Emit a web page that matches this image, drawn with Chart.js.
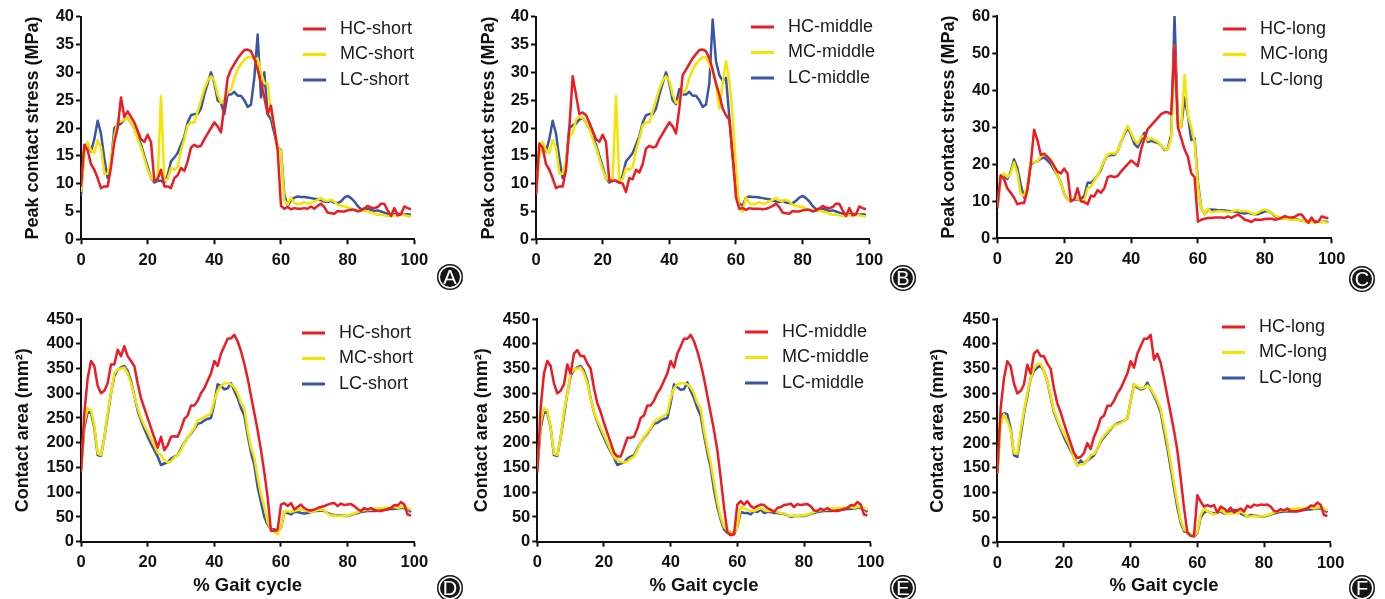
<!DOCTYPE html>
<html>
<head>
<meta charset="utf-8">
<script src="https://cdn.jsdelivr.net/npm/chart.js@4.4.1/dist/chart.umd.min.js"></script>
<style>
  html, body { margin: 0; padding: 0; background: #fff; width: 1385px; height: 599px; overflow: hidden; position: relative; }
  canvas { position: absolute; }
  .tag {
    position: absolute; width: 26px; height: 26px; border-radius: 50%;
    background: #161616; box-shadow: inset 0 0 0 1.5px #161616, inset 0 0 0 3px #fff;
    color: #fff; font: 20px 'Liberation Sans', Arial, sans-serif; text-align: center; line-height: 27px;
  }
</style>
</head>
<body>
<canvas id="chartA" width="460" height="300" style="left:0;top:0"></canvas>
<canvas id="chartB" width="460" height="300" style="left:460px;top:0"></canvas>
<canvas id="chartC" width="465" height="300" style="left:920px;top:0"></canvas>
<canvas id="chartD" width="460" height="299" style="left:0;top:300px"></canvas>
<canvas id="chartE" width="460" height="299" style="left:460px;top:300px"></canvas>
<canvas id="chartF" width="465" height="299" style="left:920px;top:300px"></canvas>
<div class="tag" style="left:437px;top:264px">A</div>
<div class="tag" style="left:890px;top:265px">B</div>
<div class="tag" style="left:1349px;top:266px">C</div>
<div class="tag" style="left:437px;top:575px">D</div>
<div class="tag" style="left:890px;top:575px">E</div>
<div class="tag" style="left:1349px;top:575px">F</div>
<script>
// % gait cycle
const gait = [0,1,2,3,4,5,6,7,8,9,10,11,12,13,14,15,16,17,18,19,20,21,22,23,24,25,26,27,28,29,
  30,31,32,33,34,35,36,37,38,39,40,41,42,43,44,45,46,47,48,49,50,51,52,53,54,55,56,57,58,59,
  60,61,62,63,64,65,66,67,68,69,70,71,72,73,74,75,76,77,78,79,80,81,82,83,84,85,86,87,88,89,
  90,91,92,93,94,95,96,97,98,99];

const xTicks = [0, 20, 40, 60, 80, 100];

// Peak contact stress (MPa)
const hcShortStress = [9.5,17,16,13.5,12.5,11,9.2,9.5,9.5,13, 17.5,20,25.5,22,23,22,21,19.5,18,17.5,
  18.8,17.5,10.5,10.8,12.5,9.5,9.5,9.2,11,11.5, 12.8,12.3,14,16.5,17,16.6,16.8,18,19,20,
  21,20.3,19.2,24,29,30.5,31.5,32.5,33.3,34, 34.1,33.8,32.5,30.5,28,25.5,22.5,24,20,16,
  6,5.5,5.8,5.4,5.6,5.5,5.5,5.6,5.5,5.9, 5.5,6,6.4,5.8,4.8,4.7,4.6,5.1,5,5,
  5.2,5.3,5.3,5,5.2,5.5,6,5.7,5.6,5.8, 6.4,6.4,5.2,4.2,5.6,4.3,4.5,5.9,5.6,5.4];
const mcShortStress = [8.5,15,17.5,16,15.5,17.8,16.5,11.8,11.8,14, 18.5,21,21.2,21.5,21.8,21,20,18,16.5,14.5,
  12.5,11,10.5,10.8,25.7,10.5,10.8,12.8,12.5,13, 16,18,20.5,21,21,23,25,27,28.5,29.3,
  28.5,26,24.5,25,26.5,26.8,29,30.5,31.5,32.2, 32.7,32.7,32.3,32.5,30,28,28,23,20,16.5,
  15.8,7,6.2,7.5,6.5,6.3,6.4,6.7,6.4,6.5, 6.8,7.1,7.4,7,6.9,7.1,6.8,6.2,6,5.9,
  5.8,5.5,5.3,5.2,5.1,5.2,5,4.8,4.6,4.4, 4.4,4.3,4.2,4.2,4.3,4.3,4.4,4.3,4.2,4.1];
const lcShortStress = [7.8,16.5,17.3,15.8,18,21.3,19,14.5,11,13.5, 20,20.5,20.8,21.5,21.8,21,20,18.5,17,15,
  13,11,10.2,10.5,10.5,10.2,11.5,14,14.7,15.5, 17,18.5,21,22.3,22.5,22.5,23.5,26,28,30,
  28,25,24.5,22.5,26,26,26.5,25.8,25.8,25, 23.8,24.2,29,36.8,25.5,30,22.5,21.5,19,16.5,
  16,8,6,7,7.5,7.7,7.6,7.6,7.5,7.4, 7.3,7.2,7,6.8,6.7,6.9,6.6,6.5,6.8,7.5,
  7.8,7.4,6.8,6,5.4,5.5,5.5,5.3,5.1,5.2, 5,4.8,4.6,4.3,4.5,4.6,4.5,4.4,4.5,4.4];

const hcMiddleStress = [8,17.2,16.5,13.5,12.5,11,9.2,9.5,9.5,12.5, 20,29.3,26,22.5,22.8,22.3,21,19.5,18,17.5,
  18.8,17.5,10.5,10.5,10.5,10.2,10,8.5,11,10.8, 12.5,12,13.5,16.3,16.8,16.5,16.7,18,19,20,
  21,20.3,19,23.5,29.5,30.5,31.5,32.5,33.3,34, 34.1,33.8,32.5,30.5,28,26,23.5,22.3,21.5,15,
  7.5,5.5,5.6,5.3,5.6,5.5,5.5,5.5,5.4,5.5, 5.7,6,6.4,5.8,4.8,4.7,4.6,5.1,5,5,
  5.2,5.3,5.3,5,5.2,5.5,6,5.7,5.6,5.8, 6.4,6.4,5.2,4.2,5.6,4.3,4.5,5.9,5.6,5.4];
const mcMiddleStress = [8.5,15,17.5,16,15.5,17.8,16.5,11.8,11.8,14, 18.5,19,21.5,22,21.8,21,20,18,16.5,14.5,
  12.5,11,10.5,10.8,25.7,10.5,10.8,12.8,12.5,13, 16,18,20.5,21,21,23,25,27,28.5,29.3,
  28.5,26,24.5,25,26.5,26.8,29,30.5,31.5,32.2, 32.7,32.7,31.5,30,28,23.5,28,32,28.5,22,
  13,5.5,5,7.5,6.5,6.3,6.4,6.7,6.4,6.5, 6.8,7.1,7.4,7,6.9,7.1,6.8,6.2,6,5.9,
  5.8,5.5,5.3,5.2,5.1,5.2,5,4.8,4.6,4.4, 4.4,4.3,4.2,4.2,4.3,4.3,4.4,4.3,4.2,4.1];
const lcMiddleStress = [8,16.5,17.3,15.8,18,21.3,19,14.5,11,13.5, 20,20.5,20.8,21.5,21.8,21,20,18.5,17,15,
  13,11,10.2,10.5,10.5,10.2,11.5,14,14.7,15.5, 17,18.5,21,22.3,22.5,22.5,23.5,26,28,30,
  28,25,24.3,27,26,26,26.5,25.8,25.8,25, 23.8,24.2,28,39.5,32,29.5,28.5,29,22,15,
  9,6.5,6,7.5,7.7,7.6,7.6,7.5,7.4,7.3, 7.2,7,6.8,6.7,6.9,6.6,6.5,6.5,6.9,7.5,
  7.8,7.4,6.8,6,5.4,5.5,5.5,5.3,5.1,5.2, 5,4.8,4.6,4.3,4.5,4.6,4.5,4.4,4.5,4.4];

const hcLongStress = [8.5,17,16,13.5,12.3,11,9.2,9.5,9.5,13, 20,29.3,26.5,22.5,22.8,22,21,19.5,18,17.5,
  18.8,17.5,10,10.5,13.5,10,9.8,9.2,11.5,11.3, 13,12.3,13.5,16.5,16.8,16.5,16.8,18,19,20,
  21,20.3,19.5,24,27,29.5,30.5,31.5,32.5,33.5, 34,34,33.5,52,30,27,24,22,17.5,16.5,
  4.5,5,5.3,5.5,5.5,5.6,5.6,5.6,5.5,5.9, 5.5,6,6.4,5.8,5,4.8,4.4,5.1,5,5,
  5.2,5.3,5.3,5,5.2,5.5,6,5.7,5.6,5.8, 6.4,6.4,5.2,4.2,5.6,4.3,4.5,5.9,5.6,5.4];
const mcLongStress = [8.5,16,17.5,16.5,17.5,20.5,17.5,12,11.5,14, 20.5,20.5,20.8,22,23,22,21,19,17,15,
  12,10.5,10,10.5,10.8,10.2,10,13.5,14,15.5, 17,19,21,22.5,23,22.8,23.5,26,28.5,30.3,
  28.5,26.5,25.5,27.5,27.5,26.5,27,26.5,26,25, 24,24,27,52,31,30,44,33,30,26,
  14,8,6.5,8,7,7.2,7.3,7.3,7.2,7.1, 7.2,7.5,7.6,7.3,7.4,7.2,6.8,6.5,7,7.5,
  7.8,7.4,6.8,6.2,5.8,5.3,5.3,5.2,5.1,5, 5,4.8,4.6,4.3,4.3,4.4,4.5,4.4,4.3,4.2];
const lcLongStress = [8,16.5,16.8,16,18,21.3,19,14.5,11,13.5, 20,20.5,20.8,21.5,21.8,21,20,18.5,17,15,
  12,10.5,10,10.5,10.5,10.5,11.5,15,15,15.8, 17,18.5,21,22.3,22.5,22.5,23.5,26,28,30,
  28,25.5,24.5,26.5,28.5,26,26.3,26,25.8,25, 23.8,24.2,28,60,31,30,38,33,26.5,27,
  15,8,6.5,7.7,7.8,7.7,7.6,7.6,7.5,7.4, 7.3,7.2,7,6.8,6.7,6.9,6.6,6.5,6.5,6.9,
  7.3,7.4,6.8,6,5.4,5.5,5.5,5.3,5.1,5.2, 5,4.8,4.6,4.3,4.5,4.6,4.5,4.4,4.5,4.4];

// Contact area (mm²)
const hcShortArea = [140,260,330,365,355,315,300,305,320,358, 358,388,375,395,375,365,355,320,290,270,
  250,230,210,190,212,185,195,212,213,212, 228,248,255,275,275,285,300,310,325,340,
  365,355,380,395,410,411,418,405,385,360, 330,295,260,225,185,140,90,22,22,25,
  75,78,72,78,65,70,75,68,64,63, 65,68,70,72,75,77,78,72,77,74,
  75,76,72,66,62,68,65,68,64,62, 62,64,66,68,74,73,80,75,55,53];
const mcShortArea = [145,240,270,265,235,178,175,210,260,300, 340,348,350,352,340,320,295,270,250,235,
  222,208,195,180,175,165,160,162,170,175, 185,200,210,220,230,245,248,252,255,260,
  285,305,315,320,320,318,312,300,280,270, 225,190,170,130,95,70,40,25,20,15,
  30,60,62,60,62,64,65,63,62,60, 62,64,65,63,57,53,53,52,52,53,
  52,55,57,60,62,64,64,65,67,67, 68,68,68,70,70,68,70,70,68,64];
const lcShortArea = [145,230,262,260,230,175,173,210,255,300, 335,347,352,355,345,325,295,265,245,228,
  212,198,185,172,155,158,160,168,172,175, 188,200,210,218,228,238,240,245,248,250,
  280,318,315,308,310,320,305,290,270,255, 215,180,155,110,80,50,35,25,25,22,
  28,60,58,55,60,60,58,57,58,60, 62,62,63,62,58,55,54,53,53,52,
  52,54,56,58,60,61,62,62,62,63, 64,64,65,66,66,67,68,68,66,60];

const hcMiddleArea = [140,270,340,365,355,320,300,305,318,358, 340,380,387,375,375,360,350,310,280,262,
  240,220,200,180,172,172,190,210,210,212, 228,250,255,275,275,285,300,310,325,340,
  365,352,380,395,410,410,418,405,385,360, 330,295,260,225,185,130,70,20,13,15,
  75,82,75,82,72,68,72,75,74,68, 65,60,68,70,74,75,77,70,76,74,
  75,76,72,63,62,67,64,68,63,62, 62,64,66,68,74,73,80,75,55,53];
const mcMiddleArea = [145,240,270,265,230,178,175,210,262,300, 340,348,350,352,340,320,290,262,245,230,
  215,200,185,170,165,162,160,162,168,172, 185,200,212,220,230,242,248,250,255,260,
  290,310,318,320,320,318,312,300,280,270, 225,190,160,120,80,50,30,22,20,18,
  30,70,68,65,62,62,65,68,64,62, 62,62,60,58,57,53,52,53,52,53,
  53,55,57,60,62,64,64,65,67,67, 68,68,68,70,70,68,70,70,68,64];
const lcMiddleArea = [145,230,262,260,230,175,173,210,255,300, 335,347,352,355,345,325,290,262,242,225,
  210,195,182,170,155,158,160,168,172,175, 188,200,210,218,228,238,240,245,248,250,
  280,318,312,307,308,322,305,290,270,255, 215,180,150,105,70,45,25,18,15,15,
  30,60,58,58,55,62,60,65,58,60, 60,58,58,57,56,53,50,52,52,52,
  52,54,56,58,60,61,62,62,62,63, 64,64,65,66,66,67,68,68,66,60];

const hcLongArea = [140,270,330,365,355,320,300,305,318,358, 340,380,387,375,375,360,350,310,280,262,
  240,220,200,180,170,172,180,200,188,212, 228,250,255,275,275,285,300,310,325,340,
  365,352,380,395,410,410,418,368,380,362, 330,295,260,225,185,130,70,20,13,12,
  95,82,72,75,72,75,60,72,68,62, 70,60,65,68,62,74,70,76,74,76,
  75,76,72,63,62,67,64,68,63,62, 62,64,66,68,74,73,80,75,55,53];
const mcLongArea = [138,235,258,245,225,180,178,225,265,300, 330,350,360,360,345,325,295,265,248,232,
  218,205,190,170,155,157,158,165,175,178, 188,205,215,222,230,235,238,240,245,250,
  285,318,315,310,312,316,310,298,285,268, 235,200,160,120,80,45,25,22,15,13,
  20,55,68,62,60,55,60,65,60,58, 58,60,58,62,58,52,52,53,52,52,
  53,55,57,60,62,64,64,65,67,67, 68,68,68,70,70,68,70,70,68,64];
const lcLongArea = [138,255,260,258,230,175,172,215,260,295, 330,345,352,356,345,325,292,262,245,228,
  212,198,185,172,155,165,158,165,170,175, 188,202,212,220,228,235,240,242,245,250,
  285,318,312,308,310,322,308,295,280,262, 225,190,150,110,70,40,22,20,15,12,
  18,50,60,62,60,58,60,62,58,60, 62,65,65,58,55,52,55,54,53,52,
  52,54,56,58,60,61,62,62,62,63, 64,64,65,66,66,67,68,68,66,60];

const colors = ['#ed1c24', '#f3e500', '#3b55a6'];
const font = "'Liberation Sans', Arial, Helvetica, sans-serif";

// moves the legend into the top right of the plot
const legendSpot = {
  id: 'legendSpot',
  afterLayout(chart, args, opts) {
    const lg = chart.legend;
    const pad = lg.options.labels.padding;
    lg.left = opts.x - pad;
    lg.top = opts.y - pad - 9;
    lg.right = lg.left + lg.width;
    lg.bottom = lg.top + lg.height;
  }
};

function makePanel(id, box, area, legendAt, names, series, yMax, yStep, yTitle, yTitlePad, showXTitle) {
  const [cx, cy, cw, ch] = box;
  const [left, top, right, bottom] = area;
  new Chart(document.getElementById(id), {
    type: 'line',
    data: {
      datasets: series.map((vals, i) => ({
        label: names[i],
        data: vals.map((v, k) => ({ x: gait[k], y: v })),
        borderColor: colors[i],
        borderWidth: 2.5,
        borderJoinStyle: 'round',
        pointRadius: 0,
        tension: 0,
        order: i
      }))
    },
    plugins: [legendSpot],
    options: {
      responsive: false,
      animation: false,
      devicePixelRatio: 1,
      layout: { padding: { left: 0, top: top - cy, right: cx + cw - right, bottom: 0 } },
      plugins: {
        tooltip: { enabled: false },
        legendSpot: { x: legendAt[0] - cx, y: legendAt[1] - cy },
        legend: {
          position: 'chartArea',
          align: 'start',
          labels: {
            font: { family: font, size: 18 },
            color: '#1a1a1a',
            padding: 7.5,
            usePointStyle: true,
            pointStyleWidth: 23,
            generateLabels: (chart) => chart.data.datasets.map((ds, i) => ({
              text: ' ' + ds.label,
              strokeStyle: ds.borderColor,
              fillStyle: ds.borderColor,
              lineWidth: 3,
              pointStyle: 'line',
              hidden: false,
              datasetIndex: i,
              fontColor: '#1a1a1a'
            }))
          }
        }
      },
      scales: {
        x: {
          type: 'linear',
          min: 0,
          max: 100,
          afterBuildTicks: (s) => { s.ticks = xTicks.map(v => ({ value: v })); },
          afterFit: (s) => { s.height = cy + ch - bottom; },
          border: { display: true, color: '#111', width: 2 },
          grid: { display: true, drawOnChartArea: false, drawTicks: true, tickLength: 5, tickColor: '#111', tickWidth: 2 },
          ticks: { font: { family: font, size: 16.5, weight: 'bold' }, color: '#111', padding: 6, maxRotation: 0 },
          title: {
            display: showXTitle,
            text: '% Gait cycle',
            font: { family: font, size: 18.5, weight: 'bold' },
            color: '#111',
            padding: { top: 0, bottom: 2 }
          }
        },
        y: {
          min: 0,
          max: yMax,
          afterFit: (s) => { s.width = left - cx; },
          border: { display: true, color: '#111', width: 2 },
          grid: { display: true, drawOnChartArea: false, drawTicks: true, tickLength: 5, tickColor: '#111', tickWidth: 2 },
          ticks: { stepSize: yStep, font: { family: font, size: 16.5, weight: 'bold' }, color: '#111', padding: 2 },
          title: {
            display: true,
            text: yTitle,
            font: { family: font, size: 18, weight: 'bold' },
            color: '#111',
            padding: { top: yTitlePad, bottom: 0 }
          }
        }
      }
    }
  });
}

const stressTitle = 'Peak contact stress (MPa)';
const areaTitle = 'Contact area (mm²)';

makePanel('chartA', [0, 0, 460, 300], [81, 16.7, 414.3, 239.3], [303, 29],
  ['HC-short', 'MC-short', 'LC-short'], [hcShortStress, mcShortStress, lcShortStress], 40, 5, stressTitle, 22, false);
makePanel('chartB', [460, 0, 460, 300], [536, 16.7, 869.3, 239.3], [751, 27],
  ['HC-middle', 'MC-middle', 'LC-middle'], [hcMiddleStress, mcMiddleStress, lcMiddleStress], 40, 5, stressTitle, 18, false);
makePanel('chartC', [920, 0, 465, 300], [997.3, 16, 1331.7, 238.3], [1223, 29],
  ['HC-long', 'MC-long', 'LC-long'], [hcLongStress, mcLongStress, lcLongStress], 60, 10, stressTitle, 18, false);
makePanel('chartD', [0, 300, 460, 299], [81, 319, 414.3, 541.7], [302, 333],
  ['HC-short', 'MC-short', 'LC-short'], [hcShortArea, mcShortArea, lcShortArea], 450, 50, areaTitle, 12.5, true);
makePanel('chartE', [460, 300, 460, 299], [537.3, 319, 870.7, 541.7], [745, 332],
  ['HC-middle', 'MC-middle', 'LC-middle'], [hcMiddleArea, mcMiddleArea, lcMiddleArea], 450, 50, areaTitle, 11, true);
makePanel('chartF', [920, 300, 465, 299], [997.3, 319, 1330.7, 542.3], [1222, 327],
  ['HC-long', 'MC-long', 'LC-long'], [hcLongArea, mcLongArea, lcLongArea], 450, 50, areaTitle, 7.5, true);
</script>
</body>
</html>
